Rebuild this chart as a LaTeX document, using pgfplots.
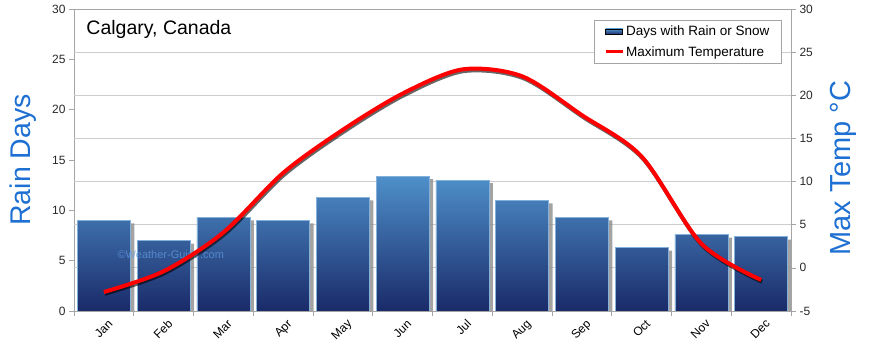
\documentclass[border=0pt]{standalone}
\usepackage{pgfplots}
\pgfplotsset{compat=1.18}
\usepackage{pgfplotstable}
\usepackage{fontspec}
\setmainfont{Liberation Sans}
\definecolor{barTop}{RGB}{78,144,202}
\definecolor{barMid}{RGB}{38,84,160}
\definecolor{barBot}{RGB}{26,42,105}
\definecolor{labBlue}{RGB}{30,112,210}
\definecolor{gridGray}{RGB}{205,205,205}
\definecolor{axGray}{RGB}{165,165,165}
\definecolor{tickText}{RGB}{40,40,40}
\pgfplotstableread{
m rain temp
0 9.0 -2.8
1 7.0 -0.4
2 9.3 4.1
3 9.0 11.0
4 11.3 16.0
5 13.4 20.2
6 13.0 23.0
7 11.0 22.2
8 9.3 17.7
9 6.3 12.9
10 7.6 2.8
11 7.4 -1.4
}\data

\begin{document}
\begin{tikzpicture}
\path[use as bounding box] (-74pt,-41pt) rectangle (796pt,311pt);
\begin{axis}[
  at={(0,0)}, anchor=south west,
  scale only axis, width=717pt, height=302pt,
  xmin=-0.5, xmax=11.5, ymin=0, ymax=30,
  axis line style={axGray},
  tick align=outside, major tick length=5pt, minor tick length=5pt,
  tick style={axGray, line width=0.6pt},
  xtick pos=bottom, ytick pos=left,
  xtick={0,1,...,11},
  xticklabels={Jan,Feb,Mar,Apr,May,Jun,Jul,Aug,Sep,Oct,Nov,Dec},
  major x tick style={draw=none},
  minor xtick={-0.5,0.5,...,11.5},
  xticklabel style={rotate=45, anchor=north east, font=\fontsize{12}{12}\selectfont, xshift=4pt, yshift=-1pt},
  ytick={0,5,...,30},
  yticklabel style={font=\fontsize{12}{12}\selectfont, text=tickText},
  extra y ticks={4.2857,8.5714,12.8571,17.1429,21.4286,25.7143},
  extra y tick labels={},
  extra y tick style={grid=major, major tick length=0pt},
  major grid style={gridGray, line width=0.8pt},
  /pgf/number format/assume math mode=true,
  ylabel={Rain Days},
  ylabel style={at={(axis description cs:-0.0711,0.5)}, anchor=center, font=\fontsize{28.5}{28.5}\selectfont, text=labBlue},
]
\addplot[ybar, bar width=0.887, bar shift=4pt, draw=none, fill=black!45, opacity=0.8] table[x=m, y expr=\thisrow{rain}-0.3]{\data};
\addplot[ybar, bar width=0.887, bar shift=0pt, draw=barTop!70!white, line width=0.4pt, top color=barTop, middle color=barMid, bottom color=barBot] table[x=m, y=rain]{\data};
\node[text=labBlue!70!white, opacity=0.75, font=\fontsize{11}{11}\selectfont] at (axis cs:1.12,5.56) {©Weather-Guide.com};
\node[anchor=west, font=\fontsize{19.5}{19.5}\selectfont, text=black] at (axis cs:-0.35,28.0) {Calgary, Canada};
\end{axis}
\begin{axis}[
  at={(0,0)}, anchor=south west,
  scale only axis, width=717pt, height=302pt,
  xmin=-0.5, xmax=11.5, ymin=-5, ymax=30,
  axis y line*=right, axis x line=none,
  axis line style={axGray},
  tick align=outside, major tick length=5pt,
  tick style={axGray, line width=0.6pt},
  ytick={-5,0,...,30},
  tick label style={font=\fontsize{12}{12}\selectfont, text=tickText},
  /pgf/number format/assume math mode=true,
  ylabel={Max Temp °C},
  ylabel style={at={(axis description cs:1.0725,0.473)}, anchor=center, font=\fontsize{29}{29}\selectfont, text=labBlue},
  legend style={at={(0.987,0.964)}, anchor=north east, draw=axGray, fill=white,
    font=\fontsize{13.5}{16}\selectfont, row sep=5pt, inner xsep=10pt, inner ysep=4pt},
  legend cell align=left,
]
\addlegendimage{area legend, draw=none, top color=barTop, bottom color=barBot}
\addlegendentry{Days with Rain or Snow}
\addplot[forget plot, smooth, line width=4pt, black, opacity=0.6, yshift=-1.8pt, xshift=1pt] table[x=m, y=temp]{\data};
\addplot[smooth, line width=4pt, red, legend image post style={line width=3pt}] table[x=m, y=temp]{\data};
\addlegendentry{Maximum Temperature}
\end{axis}
\end{tikzpicture}
\end{document}
